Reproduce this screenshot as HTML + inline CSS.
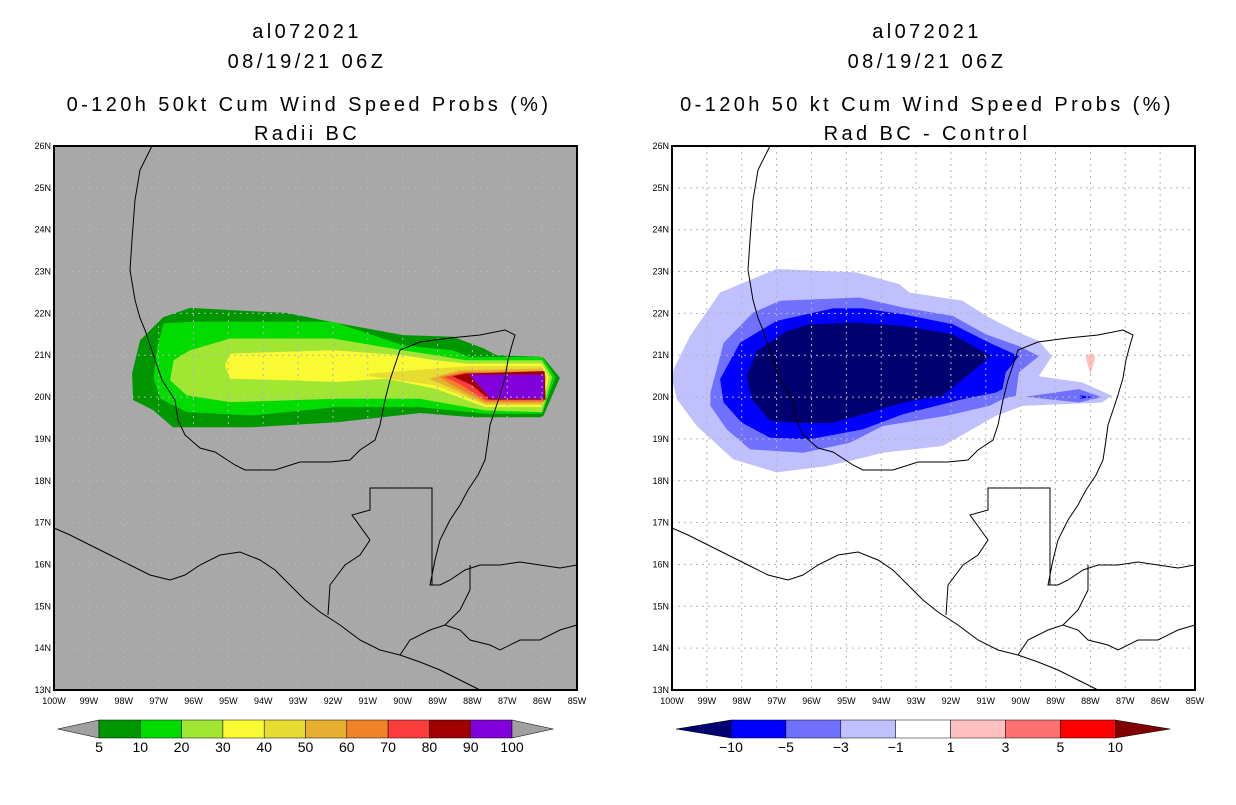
<!DOCTYPE html>
<html><head><meta charset="utf-8">
<style>
html,body{margin:0;padding:0;background:#fff;}
body{width:1236px;height:800px;overflow:hidden;font-family:"Liberation Sans",sans-serif;}
svg text{font-family:"Liberation Sans",sans-serif;}
</style></head>
<body>
<svg id="root" width="1236" height="800" viewBox="0 0 1236 800" xmlns="http://www.w3.org/2000/svg">
<g font-size="20" text-anchor="middle" fill="#000" letter-spacing="3.4">
<text x="307" y="38">al072021</text>
<text x="307" y="68">08/19/21 06Z</text>
<text x="309" y="111">0-120h 50kt Cum Wind Speed Probs (%)</text>
<text x="307" y="140">Radii BC</text>
</g>
<g font-size="20" text-anchor="middle" fill="#000" letter-spacing="3.4">
<text x="927" y="38">al072021</text>
<text x="927" y="68">08/19/21 06Z</text>
<text x="927" y="111">0-120h 50 kt Cum Wind Speed Probs (%)</text>
<text x="927" y="140">Rad BC - Control</text>
</g>
<g id="left"></g>
<g id="right"></g>
<g id="cbl"></g>
<g id="cbr"></g>
</svg>
<script>
// ---- data ----
const lonTicks=[100,99,98,97,96,95,94,93,92,91,90,89,88,87,86,85];
const latTicks=[13,14,15,16,17,18,19,20,21,22,23,24,25,26];
const leftLevels=[5,10,20,30,40,50,60,70,80,90,100];
const leftColors=["#009600","#00dc00","#a0e632","#fafa32","#e6dc32","#e6af2d","#f08228","#fa3c3c","#a00000","#8200dc"];
const rightLevels=[-10,-5,-3,-1,1,3,5,10];
const rightColors=["#000070","#0000ff","#7070ff","#c0c0ff","#ffffff","#ffc0c0","#ff7070","#ff0000","#800000"];
// contours: [lonW, lat] pairs
const p5=[[96.10,22.13],[93.32,22.01],[92.00,21.79],[89.99,21.48],[88.56,21.44],[87.70,21.17],[87.30,21.00],[85.98,20.96],[85.49,20.46],[85.98,19.52],[87.98,19.52],[89.50,19.62],[91.88,19.40],[94.29,19.28],[96.59,19.28],[97.16,19.69],[97.73,19.93],[97.76,20.57],[97.53,21.36],[96.87,21.91]];
const p10=[[96.86,21.76],[96.0,21.8],[92.0,21.8],[90.0,21.24],[88.57,21.12],[88.1,20.96],[86.0,20.96],[85.62,20.48],[86.0,19.6],[87.62,19.6],[89.52,19.76],[91.9,19.76],[94.29,19.56],[96.19,19.64],[96.95,19.96],[97.14,20.44],[97.05,21.16]];
const p20=[[96.57,20.88],[96.1,21.12],[94.95,21.4],[92.0,21.4],[90.0,21.12],[89.05,21.0],[88.19,20.88],[86.0,20.88],[85.71,20.48],[86.0,19.64],[87.62,19.68],[89.52,19.96],[91.9,19.96],[93.33,19.92],[94.95,19.88],[96.19,20.04],[96.67,20.4]];
const p30=[[95.1,20.76],[94.95,21.04],[92.0,21.12],[90.0,21.0],[89.05,20.88],[88.19,20.8],[86.0,20.8],[85.81,20.48],[86.0,19.76],[87.62,19.76],[89.05,20.2],[90.48,20.44],[91.9,20.36],[93.33,20.4],[94.95,20.44]];
const p40=[[90.95,20.56],[89.05,20.68],[88.1,20.74],[86.0,20.74],[85.86,20.48],[86.0,19.8],[87.62,19.8],[89.05,20.28],[90.95,20.5]];
const p50=[[89.24,20.44],[88.38,20.64],[86.0,20.68],[85.9,20.48],[86.0,19.84],[87.62,19.84],[88.57,20.2]];
const p60=[[88.95,20.48],[88.29,20.6],[85.95,20.62],[85.9,20.48],[85.95,19.88],[87.62,19.88],[88.57,20.28]];
const p80=[[88.81,20.48],[88.19,20.58],[85.95,20.58],[85.93,19.92],[87.62,19.92],[88.38,20.32]];
const p90=[[88.57,20.5],[88.19,20.56],[85.93,20.62],[85.9,19.94],[87.52,19.94],[88.0,20.28]];
const p100=[[88.1,20.54],[85.95,20.54],[85.95,19.96],[87.48,19.96]];
const n1=[[99.95,20.67],[99.48,21.46],[98.62,22.5],[97.0,23.06],[94.71,22.98],[93.48,22.7],[93.19,22.5],[91.67,22.3],[90.9,21.9],[90.05,21.54],[89.48,21.34],[89.1,20.98],[89.48,20.5],[88.24,20.35],[87.38,20.03],[87.67,19.87],[89.95,19.79],[90.71,19.55],[92.24,18.83],[93.95,18.67],[94.71,18.51],[95.57,18.35],[97.0,18.2],[98.24,18.51],[99.29,19.31],[99.86,19.95],[100.0,20.43]];
const n3=[[98.9,20.1],[98.52,21.3],[97.67,22.02],[96.9,22.3],[94.62,22.38],[93.38,22.14],[91.95,21.94],[91.0,21.5],[90.05,21.22],[89.48,20.98],[90.05,20.59],[90.14,20.03],[90.52,19.95],[90.9,19.79],[92.14,19.55],[93.95,19.31],[94.9,18.91],[96.24,18.67],[97.76,18.75],[98.43,19.23],[98.9,19.79]];
const n3b=[[89.86,20.01],[88.33,20.19],[87.67,20.0],[88.33,19.87]];
const n5=[[98.62,20.43],[98.05,21.3],[97.0,21.82],[95.38,22.12],[94.52,22.12],[93.38,21.98],[91.95,21.74],[90.9,21.3],[90.05,20.98],[90.43,20.59],[90.52,20.19],[90.71,20.11],[91.67,19.95],[93.38,19.59],[94.52,19.23],[96.05,18.99],[97.19,19.03],[98.0,19.39],[98.52,19.87]];
const n5b=[[88.3,20.04],[87.9,20.0],[88.3,19.96]];
const n10=[[97.86,20.51],[97.57,21.1],[96.71,21.58],[96.05,21.74],[94.62,21.78],[93.38,21.7],[91.95,21.5],[90.86,20.98],[91.48,20.55],[92.24,20.03],[93.38,19.87],[94.33,19.63],[95.48,19.37],[96.43,19.39],[97.19,19.43],[97.71,19.95]];
const pos1=[[88.14,20.98],[87.95,21.06],[87.86,20.94],[88.0,20.54]];
// basemap lines (pixel offsets inside panel)
const coast=[[98,0],[96,4],[86,24],[81,54],[78,94],[76,124],[81,154],[86,172],[91,184],[96,199],[108,234],[121,254],[124,274],[131,289],[146,302],[161,306],[181,319],[191,324],[221,324],[246,316],[276,316],[296,314],[306,304],[321,294],[326,279],[331,254],[336,234],[346,204],[366,196],[396,192],[426,189],[451,184],[461,189],[458,199],[454,214],[451,232],[446,249],[441,264],[436,279],[434,294],[431,314],[424,329],[414,344],[406,359],[396,374],[386,394],[381,414],[378,429],[376,439],[386,439],[396,434],[411,424],[426,419],[446,419],[466,416],[486,419],[506,422],[523,419]];
const pacific=[[0,382],[16,389],[36,399],[56,409],[76,419],[96,429],[116,434],[131,429],[146,419],[166,409],[186,406],[206,414],[221,424],[236,439],[251,454],[266,466],[286,479],[306,494],[326,504],[346,509],[366,516],[386,524],[406,534],[426,544]];
const border1=[[274,469],[276,439],[291,419],[306,409],[316,394],[298,369],[316,364],[316,342],[378,342],[378,439]];
const border2=[[346,509],[356,494],[376,484],[391,479],[406,484],[416,494],[436,499],[446,504],[466,494],[486,494],[506,484],[523,479]];
const border3=[[416,419],[416,444],[406,464],[391,479]];

// ---- projection ----
const PW=523, PH=544;
function X(x0,lonW){return x0+(100-lonW)*PW/15;}
function Y(lat){return 146+(26-lat)*PH/13;}
const NS="http://www.w3.org/2000/svg";
function el(tag,attrs,parent){const e=document.createElementNS(NS,tag);for(const k in attrs)e.setAttribute(k,attrs[k]);parent.appendChild(e);return e;}
function poly(parent,x0,pts,fill,name){
  const e=el("polygon",{points:pts.map(p=>X(x0,p[0]).toFixed(1)+","+Y(p[1]).toFixed(1)).join(" "),fill:fill},parent);
  
  
}
function line(parent,x0,pts,name){
  const e=el("polyline",{points:pts.map(p=>(x0+p[0])+","+(146+p[1])).join(" "),fill:"none",stroke:"#000","stroke-width":1},parent);
  
  
}
function panel(g,x0,bg,drawFill){
  const r=el("rect",{x:x0,y:146,width:PW,height:PH,fill:bg},g);
  
  
  drawFill();
  lonTicks.forEach(l=>{const x=X(x0,l);const e=el("line",{x1:x,x2:x,y1:146,y2:690,stroke:"#b4b4b4","stroke-dasharray":"2,4","stroke-width":1},g);
    
    });
  latTicks.forEach(l=>{const y=Y(l);const e=el("line",{x1:x0,x2:x0+PW,y1:y,y2:y,stroke:"#b4b4b4","stroke-dasharray":"2,4","stroke-width":1},g);
    
    });
  line(g,x0,coast,'coastline-gulf');
  line(g,x0,pacific,'coastline-pacific');
  line(g,x0,border1,'border-mexico-guatemala');
  line(g,x0,border2,'border-central-america');
  line(g,x0,border3,'border-belize');
  const f=el("rect",{x:x0,y:146,width:PW,height:PH,fill:"none",stroke:"#000","stroke-width":2},g);
  
  
  lonTicks.forEach(l=>{const t=el("text",{x:X(x0,l),y:704,"font-size":9,"text-anchor":"middle"},g);t.textContent=l+"W";
    
    });
  latTicks.forEach(l=>{const t=el("text",{x:x0-3,y:Y(l)+3,"font-size":9,"text-anchor":"end"},g);t.textContent=l+"N";
    
    });
}
const L=document.getElementById("left"), R=document.getElementById("right");
panel(L,54,"#a8a8a8",()=>{
  const polys=[p5,p10,p20,p30,p40,p50,p60,p80,p90,p100];
  polys.forEach((p,i)=>poly(L,54,p,leftColors[i],'prob-contour-'+leftLevels[i]));
});
panel(R,672,"#ffffff",()=>{
  poly(R,672,n1,rightColors[3],'diff-contour-minus1');
  poly(R,672,n3,rightColors[2],'diff-contour-minus3');
  poly(R,672,n3b,rightColors[2],'diff-contour-minus3-east');
  poly(R,672,n5,rightColors[1],'diff-contour-minus5');
  poly(R,672,n5b,rightColors[1],'diff-contour-minus5-east');
  poly(R,672,n10,rightColors[0],'diff-contour-minus10');
  poly(R,672,pos1,rightColors[5],'diff-contour-plus1');
});
// ---- colorbars ----
function colorbar(g,x0,w,n,cols,labels,triL,triR){
  const y0=720,h=18;
  const t1=el("polygon",{points:`${x0-w},${y0+h/2} ${x0},${y0} ${x0},${y0+h}`,fill:triL,stroke:"#000","stroke-width":0.5},g);
  
  
  for(let i=0;i<n;i++){
    const r=el("rect",{x:x0+i*w,y:y0,width:w,height:h,fill:cols[i],stroke:"#000","stroke-width":0.5},g);
    
    
  }
  const xe=x0+n*w;
  const t2=el("polygon",{points:`${xe},${y0} ${xe+w},${y0+h/2} ${xe},${y0+h}`,fill:triR,stroke:"#000","stroke-width":0.5},g);
  
  
  labels.forEach((lb,i)=>{const t=el("text",{x:x0+i*w,y:752,"font-size":14,"text-anchor":"middle"},g);t.textContent=lb;
    
    });
}
colorbar(document.getElementById("cbl"),99,41.3,10,leftColors,leftLevels.map(String),"#a0a0a0","#a0a0a0");
colorbar(document.getElementById("cbr"),731,54.9,7,rightColors.slice(1,8),rightLevels.map(v=>v<0?"\u2212"+(-v):String(v)),rightColors[0],rightColors[8]);
</script>
</body></html>
